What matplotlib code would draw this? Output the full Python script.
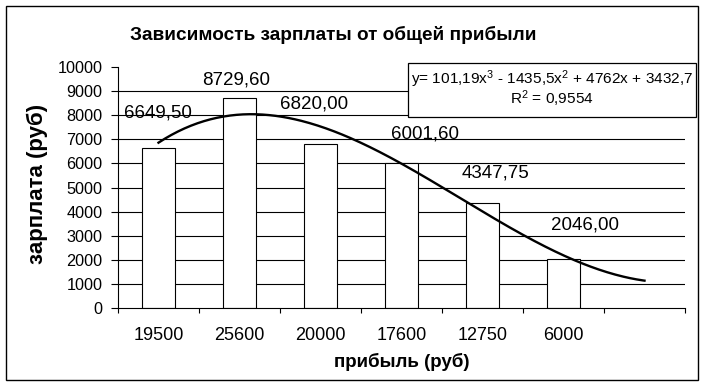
import numpy as np
import matplotlib
matplotlib.use("Agg")
import matplotlib.pyplot as plt
from matplotlib.patches import Rectangle

# ---- data ----
categories = ["19500", "25600", "20000", "17600", "12750", "6000", ""]
salary = [6649.50, 8729.60, 6820.00, 6001.60, 4347.75, 2046.00]
trend_coefs = [101.19, -1435.5, 4762.0, 3432.7]   # cubic trend shown on chart
r_squared = 0.9554
y_ticks = list(range(0, 10001, 1000))

title = "Зависимость зарплаты от общей прибыли"
xlabel = "прибыль (руб)"
ylabel = "зарплата (руб)"

# label offsets (pixels, manually placed in original)
label_offsets_px = [(-1, 35), (-3, 18), (-6, 40), (23, 29), (13, 30), (21, 34)]

plt.rcParams['font.family'] = ['Liberation Sans', 'DejaVu Sans']
plt.rcParams['mathtext.fontset'] = 'custom'
plt.rcParams['mathtext.rm'] = 'Liberation Sans'
plt.rcParams['mathtext.it'] = 'Liberation Sans'
plt.rcParams['mathtext.bf'] = 'Liberation Sans:bold'

W, H = 703, 386
fig = plt.figure(figsize=(W / 100, H / 100), dpi=100)
ax = fig.add_axes([118 / W, 1 - 308 / H, (685 - 118) / W, (308 - 67) / H])

n_slots = len(categories)
x = np.arange(1, len(salary) + 1)
ax.bar(x, salary, width=0.41, color='white', edgecolor='black', linewidth=0.8, zorder=3)

# trend line
xs = np.linspace(1, n_slots, 300)
ax.plot(xs, np.polyval(trend_coefs, xs), color='black', linewidth=1.7, zorder=4)

# data labels
def fmt(v):
    return f"{v:.2f}".replace('.', ',')

for xi, v, (dx, dy) in zip(x, salary, label_offsets_px):
    ax.annotate(fmt(v), (xi, v), xytext=(dx * 0.72, dy * 0.72), textcoords='offset points',
                ha='center', va='center', fontsize=13.5, zorder=5)

ax.set_xlim(0.5, n_slots + 0.5)
ax.set_ylim(0, 10000)
ax.set_yticks(y_ticks)
ax.set_yticklabels([str(t) for t in y_ticks], fontsize=11.7)
ax.tick_params(axis='y', direction='out', length=5, width=0.8, pad=6, colors='black')

ax.set_xticks(np.arange(0.5, n_slots + 1, 1.0))
ax.set_xticklabels([])
ax.tick_params(axis='x', which='major', direction='out', length=3.6, width=0.8)
ax.set_xticks(np.arange(1, n_slots + 1), minor=True)
ax.set_xticklabels(categories, minor=True, fontsize=13)
ax.tick_params(axis='x', which='minor', length=0, pad=14)

ax.yaxis.grid(True, color='black', linewidth=0.8, zorder=1)
ax.set_axisbelow(True)
for gl, t in zip(ax.get_ygridlines(), y_ticks):
    if t in (y_ticks[0], y_ticks[-1]):
        gl.set_visible(False)

for s in ['top', 'right']:
    ax.spines[s].set_visible(False)
for s in ['left', 'bottom']:
    ax.spines[s].set_linewidth(0.8)
    ax.spines[s].set_zorder(6)

# titles / labels
fig.text(333.5 / W, 1 - 35 / H, title, ha='center', va='center', fontsize=13.7, fontweight='bold')
fig.text(401.5 / W, 1 - 362 / H, xlabel, ha='center', va='center', fontsize=13.5, fontweight='bold')
fig.text(37 / W, 1 - 184 / H, ylabel, ha='center', va='center', rotation=90, fontsize=16, fontweight='bold')

# equation box
fig.add_artist(Rectangle((408 / W, 1 - 117 / H), (696 - 408) / W, (117 - 63) / H,
                         transform=fig.transFigure, facecolor='white', edgecolor='black',
                         linewidth=0.9, zorder=10))
a, b, c, d = trend_coefs
def fmt_c(v):
    return f"{v:g}".replace('.', ',')
eq = f"y= {fmt_c(a)}x$^3$ - {fmt_c(-b)}x$^2$ + {fmt_c(c)}x + {fmt_c(d)}"
fig.text(552 / W, 1 - 79 / H, eq, ha='center', va='center', fontsize=11.1, zorder=11)
r2 = f"R$^2$ = {r_squared:.4f}".replace('.', ',')
fig.text(552 / W, 1 - 99 / H, r2, ha='center', va='center', fontsize=11.1, zorder=11)

# outer border
fig.add_artist(Rectangle((6 / W, 6 / H), 692 / W, 374 / H, transform=fig.transFigure,
                         facecolor='none', edgecolor='black', linewidth=1.0, zorder=12))

fig.savefig("out.png", dpi=100)
